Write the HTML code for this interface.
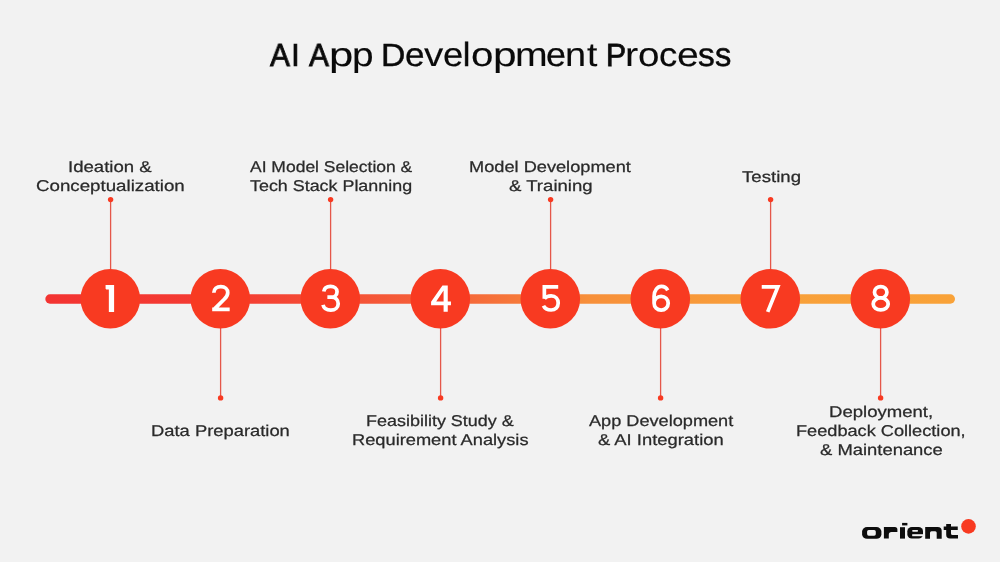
<!DOCTYPE html>
<html><head><meta charset="utf-8"><style>
html,body{margin:0;padding:0}
body{width:1000px;height:562px;background:#f2f2f2;position:relative;overflow:hidden;font-family:"Liberation Sans",sans-serif}
.t{position:absolute;white-space:nowrap;transform-origin:0 0;text-rendering:geometricPrecision;will-change:transform;-webkit-text-stroke:0.25px currentColor}
.d{position:absolute;white-space:nowrap;font-size:38px;line-height:38px;color:#fff;font-weight:400}
svg{position:absolute;left:0;top:0}
</style></head><body>
<svg width="1000" height="562" viewBox="0 0 1000 562">
<defs><linearGradient id="g" x1="46" y1="0" x2="955" y2="0" gradientUnits="userSpaceOnUse"><stop offset="0" stop-color="#f33432"/><stop offset="0.2" stop-color="#f43c33"/><stop offset="0.45" stop-color="#f5653a"/><stop offset="0.6" stop-color="#f7903a"/><stop offset="0.8" stop-color="#f8a03a"/><stop offset="1" stop-color="#f9a238"/></linearGradient></defs>
<line x1="50.0" y1="299.0" x2="950.3" y2="299.0" stroke="url(#g)" stroke-width="9.4" stroke-linecap="round"/>
<line x1="110.6" y1="199.6" x2="110.6" y2="270.0" stroke="#e5574a" stroke-width="1.3"/>
<circle cx="110.6" cy="199.6" r="2.7" fill="#f83a21"/>
<circle cx="110.3" cy="298.8" r="29.8" fill="#f83a21"/>
<line x1="220.6" y1="327.6" x2="220.6" y2="397.9" stroke="#e5574a" stroke-width="1.3"/>
<circle cx="220.6" cy="397.9" r="2.7" fill="#f83a21"/>
<circle cx="220.3" cy="298.8" r="29.8" fill="#f83a21"/>
<line x1="330.6" y1="199.6" x2="330.6" y2="270.0" stroke="#e5574a" stroke-width="1.3"/>
<circle cx="330.6" cy="199.6" r="2.7" fill="#f83a21"/>
<circle cx="330.3" cy="298.8" r="29.8" fill="#f83a21"/>
<line x1="440.6" y1="327.6" x2="440.6" y2="397.9" stroke="#e5574a" stroke-width="1.3"/>
<circle cx="440.6" cy="397.9" r="2.7" fill="#f83a21"/>
<circle cx="440.3" cy="298.8" r="29.8" fill="#f83a21"/>
<line x1="550.6" y1="199.6" x2="550.6" y2="270.0" stroke="#e5574a" stroke-width="1.3"/>
<circle cx="550.6" cy="199.6" r="2.7" fill="#f83a21"/>
<circle cx="550.3" cy="298.8" r="29.8" fill="#f83a21"/>
<line x1="660.6" y1="327.6" x2="660.6" y2="397.9" stroke="#e5574a" stroke-width="1.3"/>
<circle cx="660.6" cy="397.9" r="2.7" fill="#f83a21"/>
<circle cx="660.3" cy="298.8" r="29.8" fill="#f83a21"/>
<line x1="770.6" y1="199.6" x2="770.6" y2="270.0" stroke="#e5574a" stroke-width="1.3"/>
<circle cx="770.6" cy="199.6" r="2.7" fill="#f83a21"/>
<circle cx="770.3" cy="298.8" r="29.8" fill="#f83a21"/>
<line x1="880.6" y1="327.6" x2="880.6" y2="397.9" stroke="#e5574a" stroke-width="1.3"/>
<circle cx="880.6" cy="397.9" r="2.7" fill="#f83a21"/>
<circle cx="880.3" cy="298.8" r="29.8" fill="#f83a21"/>
</svg>
<div class="t" style="left:269.95px;top:38.60px;font-size:32px;line-height:32px;font-weight:400;color:#0a0a0a;transform:scaleX(0.9318);-webkit-text-stroke:0.85px currentColor">A</div>
<div class="t" style="left:290.75px;top:38.60px;font-size:32px;line-height:32px;font-weight:400;color:#0a0a0a;transform:scaleX(1.0000);-webkit-text-stroke:0.60px currentColor">I</div>
<div class="t" style="left:309.00px;top:38.60px;font-size:32px;line-height:32px;font-weight:400;color:#0a0a0a;transform:scaleX(0.9318);-webkit-text-stroke:0.85px currentColor">A</div>
<div class="t" style="left:329.37px;top:38.60px;font-size:32px;line-height:32px;font-weight:400;color:#0a0a0a;transform:scale(1.3655,1.04);transform-origin:0 27.0px;-webkit-text-stroke:0.10px currentColor">p</div>
<div class="t" style="left:352.27px;top:38.60px;font-size:32px;line-height:32px;font-weight:400;color:#0a0a0a;transform:scale(1.2138,1.04);transform-origin:0 27.0px;-webkit-text-stroke:0.10px currentColor">p</div>
<div class="t" style="left:380.95px;top:38.60px;font-size:32px;line-height:32px;font-weight:400;color:#0a0a0a;transform:scaleX(1.0560);-webkit-text-stroke:0.42px currentColor">D</div>
<div class="t" style="left:405.02px;top:38.60px;font-size:32px;line-height:32px;font-weight:400;color:#0a0a0a;transform:scale(1.1000,1.04);transform-origin:0 27.0px;-webkit-text-stroke:0.29px currentColor">e</div>
<div class="t" style="left:423.70px;top:38.60px;font-size:32px;line-height:32px;font-weight:400;color:#0a0a0a;transform:scale(1.2065,1.04);transform-origin:0 27.0px;-webkit-text-stroke:0.10px currentColor">v</div>
<div class="t" style="left:442.93px;top:38.60px;font-size:32px;line-height:32px;font-weight:400;color:#0a0a0a;transform:scale(1.1367,1.04);transform-origin:0 27.0px;-webkit-text-stroke:0.19px currentColor">e</div>
<div class="t" style="left:463.02px;top:38.60px;font-size:32px;line-height:32px;font-weight:400;color:#0a0a0a;transform:scale(1.0000,1.04);transform-origin:0 27.0px;-webkit-text-stroke:0.60px currentColor">l</div>
<div class="t" style="left:470.52px;top:38.60px;font-size:32px;line-height:32px;font-weight:400;color:#0a0a0a;transform:scale(1.2623,1.04);transform-origin:0 27.0px;-webkit-text-stroke:0.10px currentColor">o</div>
<div class="t" style="left:493.09px;top:38.60px;font-size:32px;line-height:32px;font-weight:400;color:#0a0a0a;transform:scale(1.3276,1.04);transform-origin:0 27.0px;-webkit-text-stroke:0.10px currentColor">p</div>
<div class="t" style="left:514.99px;top:38.60px;font-size:32px;line-height:32px;font-weight:400;color:#0a0a0a;transform:scale(1.2247,1.04);transform-origin:0 27.0px;-webkit-text-stroke:0.10px currentColor">m</div>
<div class="t" style="left:546.20px;top:38.60px;font-size:32px;line-height:32px;font-weight:400;color:#0a0a0a;transform:scale(1.1200,1.04);transform-origin:0 27.0px;-webkit-text-stroke:0.24px currentColor">e</div>
<div class="t" style="left:564.93px;top:38.60px;font-size:32px;line-height:32px;font-weight:400;color:#0a0a0a;transform:scale(1.1852,1.04);transform-origin:0 27.0px;-webkit-text-stroke:0.10px currentColor">n</div>
<div class="t" style="left:587.42px;top:38.60px;font-size:32px;line-height:32px;font-weight:400;color:#0a0a0a;transform:scale(1.1636,1.04);transform-origin:0 27.0px;-webkit-text-stroke:0.12px currentColor">t</div>
<div class="t" style="left:606.21px;top:38.60px;font-size:32px;line-height:32px;font-weight:400;color:#0a0a0a;transform:scaleX(0.9412);-webkit-text-stroke:0.81px currentColor">P</div>
<div class="t" style="left:624.81px;top:38.60px;font-size:32px;line-height:32px;font-weight:400;color:#0a0a0a;transform:scale(1.2387,1.04);transform-origin:0 27.0px;-webkit-text-stroke:0.10px currentColor">r</div>
<div class="t" style="left:638.09px;top:38.60px;font-size:32px;line-height:32px;font-weight:400;color:#0a0a0a;transform:scale(1.2066,1.04);transform-origin:0 27.0px;-webkit-text-stroke:0.10px currentColor">o</div>
<div class="t" style="left:658.97px;top:38.60px;font-size:32px;line-height:32px;font-weight:400;color:#0a0a0a;transform:scale(1.1429,1.04);transform-origin:0 27.0px;-webkit-text-stroke:0.18px currentColor">c</div>
<div class="t" style="left:677.27px;top:38.60px;font-size:32px;line-height:32px;font-weight:400;color:#0a0a0a;transform:scale(1.2267,1.04);transform-origin:0 27.0px;-webkit-text-stroke:0.10px currentColor">e</div>
<div class="t" style="left:698.15px;top:38.60px;font-size:32px;line-height:32px;font-weight:400;color:#0a0a0a;transform:scale(1.0473,1.04);transform-origin:0 27.0px;-webkit-text-stroke:0.45px currentColor">s</div>
<div class="t" style="left:715.38px;top:38.60px;font-size:32px;line-height:32px;font-weight:400;color:#0a0a0a;transform:scale(1.0182,1.04);transform-origin:0 27.0px;-webkit-text-stroke:0.54px currentColor">s</div>
<div class="t" style="left:68.21px;top:159.90px;font-size:15.6px;line-height:15.6px;font-weight:400;color:#2a2a2a;transform:scaleX(1.1912)">Ideation &amp;</div>
<div class="t" style="left:36.30px;top:179.10px;font-size:15.6px;line-height:15.6px;font-weight:400;color:#2a2a2a;transform:scaleX(1.2000)">Conceptualization</div>
<div class="t" style="left:249.90px;top:160.00px;font-size:15.6px;line-height:15.6px;font-weight:400;color:#2a2a2a;transform:scaleX(1.1211)">AI Model Selection &amp;</div>
<div class="t" style="left:250.11px;top:178.50px;font-size:15.6px;line-height:15.6px;font-weight:400;color:#2a2a2a;transform:scaleX(1.1471)">Tech Stack Planning</div>
<div class="t" style="left:468.94px;top:160.00px;font-size:15.6px;line-height:15.6px;font-weight:400;color:#2a2a2a;transform:scaleX(1.1672)">Model Development</div>
<div class="t" style="left:508.90px;top:179.00px;font-size:15.6px;line-height:15.6px;font-weight:400;color:#2a2a2a;transform:scaleX(1.1913)">&amp; Training</div>
<div class="t" style="left:741.60px;top:170.00px;font-size:15.6px;line-height:15.6px;font-weight:400;color:#2a2a2a;transform:scaleX(1.1938)">Testing</div>
<div class="t" style="left:151.33px;top:424.00px;font-size:15.6px;line-height:15.6px;font-weight:400;color:#2a2a2a;transform:scaleX(1.1775)">Data Preparation</div>
<div class="t" style="left:366.16px;top:414.00px;font-size:15.6px;line-height:15.6px;font-weight:400;color:#2a2a2a;transform:scaleX(1.1519)">Feasibility Study &amp;</div>
<div class="t" style="left:352.14px;top:433.00px;font-size:15.6px;line-height:15.6px;font-weight:400;color:#2a2a2a;transform:scaleX(1.1705)">Requirement Analysis</div>
<div class="t" style="left:588.90px;top:413.90px;font-size:15.6px;line-height:15.6px;font-weight:400;color:#2a2a2a;transform:scaleX(1.1636)">App Development</div>
<div class="t" style="left:598.21px;top:432.80px;font-size:15.6px;line-height:15.6px;font-weight:400;color:#2a2a2a;transform:scaleX(1.1790)">&amp; AI Integration</div>
<div class="t" style="left:829.11px;top:405.00px;font-size:15.6px;line-height:15.6px;font-weight:400;color:#2a2a2a;transform:scaleX(1.1894)">Deployment,</div>
<div class="t" style="left:796.24px;top:423.80px;font-size:15.6px;line-height:15.6px;font-weight:400;color:#2a2a2a;transform:scaleX(1.1650)">Feedback Collection,</div>
<div class="t" style="left:819.51px;top:442.80px;font-size:15.6px;line-height:15.6px;font-weight:400;color:#2a2a2a;transform:scaleX(1.1805)">&amp; Maintenance</div>
<svg width="1000" height="562" viewBox="0 0 1000 562" style="position:absolute;left:0;top:0">
<g fill="#fff">
<path transform="translate(95,280) scale(0.0641)" d="M165,78 L298,78 L298,498 L216,498 L216,150 L176,150 L165,138 Z"/>
<path transform="translate(425,280) scale(0.0641)" fill-rule="evenodd" d="M272,85 L355,85 L355,335 L405,335 L405,395 L355,395 L355,495 L290,495 L290,395 L95,395 L95,340 Z M290,165 L290,335 L175,335 Z"/>
</g>
<g fill="none" stroke="#fff" stroke-width="58">
<path transform="translate(205,280) scale(0.0641)" d="M138,198 C138,135 185,103 247,103 C312,103 355,142 355,197 C355,240 332,268 300,300 L150,450 M112,457 L385,457"/>
<path transform="translate(315,280) scale(0.0641)" d="M137,180 C145,127 190,101 242,101 C302,101 344,136 344,182 C344,236 302,268 257,268 L193,268 M257,268 C322,268 362,310 362,370 C362,430 314,470 246,470 C182,470 137,442 125,388"/>
<path transform="translate(535,280) scale(0.0641)" d="M362,106 L146,106 L146,292"/><path transform="translate(535,280) scale(0.0641)" d="M146,292 C170,260 208,247 252,247 C322,247 362,297 362,360 C362,427 316,468 251,468 C193,468 150,443 132,403"/>
<path transform="translate(645,280) scale(0.0641)" d="M142,362 C142,302 190,254 252,254 C314,254 362,302 362,362 C362,422 314,470 252,470 C190,470 142,422 142,362 L142,255 C142,160 195,101 256,101 C300,101 335,124 354,162"/>
<path transform="translate(755,280) scale(0.0641)" d="M105,108 L356,108 L198,497" stroke-linejoin="miter"/>
<path transform="translate(865,280) scale(0.0641)" d="M245,103 C299,103 342,142 342,191 C342,240 299,280 245,280 C191,280 148,240 148,191 C148,142 191,103 245,103 Z M245,280 C310,280 362,322 362,374 C362,426 310,467 245,467 C180,467 128,426 128,374 C128,322 180,280 245,280 Z"/>
</g>
</svg>

<svg width="1000" height="562" viewBox="0 0 1000 562" style="position:absolute;left:0;top:0">
<g fill="#0d0d0d">
<rect x="862.1" y="527.1" width="19.3" height="11.6" rx="5" ry="4.5"/>
<path d="M883.9,538.6 V527 H894.9 Q897.4,527 897.4,529.5 V531.9 H891.5 Q888.8,531.9 888.8,534.5 V538.6 Z"/>
<rect x="900" y="527.2" width="5" height="11.4"/>
<rect x="902.1" y="522.9" width="5.3" height="2.5"/>
<rect x="907.35" y="527" width="15.65" height="11.6" rx="4.5" ry="4.2"/>
<path d="M925.2,538.7 V526.9 H937.7 Q941.7,526.9 941.7,530.9 V538.7 H936.7 V532.7 Q936.7,531.2 935.2,531.2 H931.5 Q930,531.2 930,532.7 V538.7 Z"/>
<path d="M946.2,524.1 H951 V526.5 H957.75 V530 H951 V533.5 Q951,535 952.5,535 H958 V538.5 H950 Q946.2,538.5 946.2,534.7 V530 H943.7 V526.5 H946.2 Z"/>
</g>
<g fill="#f2f2f2">
<rect x="867.1" y="530.1" width="8.7" height="5.6" rx="1.6"/>
<rect x="912.2" y="529.9" width="5.8" height="1.8" rx="0.7"/>
<rect x="912.2" y="534.2" width="11.5" height="2.0"/>
</g>
<circle cx="968.5" cy="526.4" r="7.3" fill="#f83a21"/>
</svg>

</body></html>
